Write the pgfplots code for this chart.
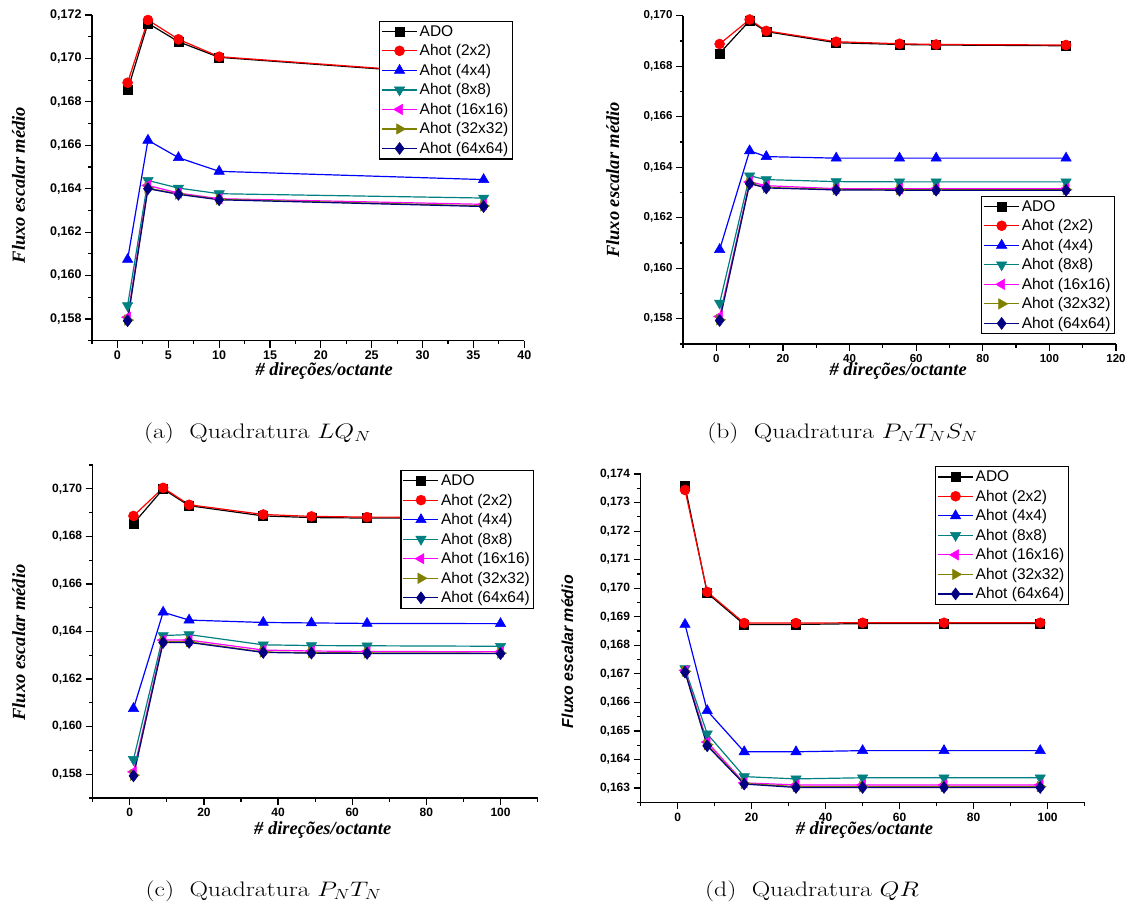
\documentclass[border=0pt]{standalone}
\usepackage{fix-cm}
\usepackage{fontspec}
\usepackage{graphicx}
\usepackage{pgfplots}
\pgfplotsset{compat=1.18}
\usepackage{pgfplotstable}
\newfontfamily\arial{Liberation Sans}
\newfontfamily\tnr{Liberation Serif}

\definecolor{c2}{RGB}{255,0,0}
\definecolor{c4}{RGB}{0,0,255}
\definecolor{c8}{RGB}{0,128,128}
\definecolor{c16}{RGB}{255,0,255}
\definecolor{c32}{RGB}{128,128,0}
\definecolor{c64}{RGB}{0,0,128}

\pgfplotstableread{
x ado h2 h4 h8 h16 h32 h64
1  0.16854 0.16888 0.16074 0.15862 0.15808 0.15795 0.15792
3  0.17162 0.17177 0.16623 0.16438 0.16415 0.16403 0.16400
6  0.17077 0.17088 0.16543 0.16403 0.16380 0.16376 0.16374
10 0.17005 0.17008 0.16480 0.16377 0.16354 0.16351 0.16349
36 0.16917 0.16920 0.16442 0.16357 0.16328 0.16321 0.16318
}\ta
\pgfplotstableread{
x ado h2 h4 h8 h16 h32 h64
1   0.16851 0.16888 0.16074 0.15862 0.15809 0.15796 0.15793
10  0.16980 0.16985 0.16465 0.16366 0.16342 0.16337 0.16335
15  0.16937 0.16940 0.16442 0.16351 0.16327 0.16320 0.16318
36  0.16893 0.16897 0.16436 0.16343 0.16315 0.16312 0.16310
55  0.16886 0.16889 0.16436 0.16342 0.16315 0.16311 0.16309
66  0.16884 0.16886 0.16436 0.16342 0.16315 0.16311 0.16309
105 0.16881 0.16884 0.16436 0.16342 0.16315 0.16311 0.16309
}\tb
\pgfplotstableread{
x ado h2 h4 h8 h16 h32 h64
1   0.16854 0.16886 0.16076 0.15862 0.15810 0.15796 0.15793
9   0.16999 0.17004 0.16481 0.16383 0.16364 0.16357 0.16354
16  0.16929 0.16933 0.16448 0.16387 0.16364 0.16357 0.16354
36  0.16886 0.16892 0.16438 0.16344 0.16322 0.16314 0.16312
49  0.16879 0.16884 0.16436 0.16341 0.16318 0.16311 0.16309
64  0.16877 0.16881 0.16434 0.16340 0.16316 0.16310 0.16308
100 0.16876 0.16880 0.16433 0.16338 0.16315 0.16309 0.16307
}\tc
\pgfplotstableread{
x ado h2 h4 h8 h16 h32 h64
2  0.17358 0.17344 0.16873 0.16718 0.16712 0.16709 0.16706
8  0.16983 0.16987 0.16571 0.16490 0.16461 0.16452 0.16448
18 0.16873 0.16878 0.16427 0.16340 0.16318 0.16316 0.16314
32 0.16873 0.16878 0.16427 0.16332 0.16311 0.16305 0.16302
50 0.16876 0.16879 0.16431 0.16336 0.16311 0.16305 0.16302
72 0.16876 0.16879 0.16431 0.16336 0.16311 0.16305 0.16302
98 0.16876 0.16879 0.16431 0.16336 0.16311 0.16305 0.16302
}\td

\pgfplotsset{
  origin/.style={
    scale only axis,
    axis x line*=bottom, axis y line*=left,
    axis line style={-, line width=1.3pt, black},
    tick align=outside,
    major tick length=7pt, minor tick length=3.5pt,
    tick style={black, line width=1.2pt},
    minor tick style={black, line width=1.2pt},
    scaled ticks=false,
    /pgf/number format/assume math mode=true,
    tick label style={font=\arial\bfseries\fontsize{12}{12}\selectfont},
    yticklabel style={/pgf/number format/.cd, fixed, fixed zerofill, precision=3, use comma},
    xticklabel style={/pgf/number format/.cd, fixed, precision=0},
    xlabel style={font=\tnr\bfseries\itshape\fontsize{18.5}{18.5}\selectfont, anchor=center},
    ylabel style={font=\tnr\bfseries\itshape\fontsize{18.5}{18.5}\selectfont, anchor=center},
    legend cell align=left,
    legend style={font=\arial\fontsize{15.5}{15.5}\selectfont, draw=black, line width=1.3pt, inner sep=2pt, row sep=2.8pt, anchor=north east},
    legend image code/.code={\draw[mark repeat=2,mark phase=2] plot coordinates {(0pt,0pt) (17.5pt,0pt) (35pt,0pt)};},
  },
  sA/.style={black, line width=1.2pt, mark=square*, mark size=4.5pt, mark options={solid, line width=0.5pt}},
  s2/.style={c2, line width=1.2pt, mark=*, mark size=5pt, mark options={solid, line width=0.5pt}},
  s4/.style={c4, line width=1.2pt, mark=triangle*, mark size=6pt, mark options={solid, line width=0.5pt}},
  s8/.style={c8, line width=1.2pt, mark=triangle*, mark size=6pt, mark options={solid, rotate=180, line width=0.5pt}},
  s16/.style={c16, line width=1.2pt, mark=triangle*, mark size=6pt, mark options={solid, rotate=90, line width=0.5pt}},
  s32/.style={c32, line width=1.2pt, mark=triangle*, mark size=6pt, mark options={solid, rotate=-90, line width=0.5pt}},
  s64/.style={c64, line width=1.2pt, mark=diamond*, mark size=6pt, mark options={solid, line width=0.5pt}},
}
\newcommand{\plotall}[1]{%
  \addplot[sA] table[x=x,y=ado]{#1};
  \addplot[s2] table[x=x,y=h2]{#1};
  \addplot[s4] table[x=x,y=h4]{#1};
  \addplot[s8] table[x=x,y=h8]{#1};
  \addplot[s16] table[x=x,y=h16]{#1};
  \addplot[s32] table[x=x,y=h32]{#1};
  \addplot[s64] table[x=x,y=h64]{#1};
  \legend{ADO,Ahot (2x2),Ahot (4x4),Ahot (8x8),Ahot (16x16),Ahot (32x32),Ahot (64x64)}%
}
\newcommand{\capt}[1]{\scalebox{1.22}[1]{\fontsize{21}{25}\selectfont #1}}

\begin{document}
\begin{tikzpicture}
\path[use as bounding box] (0pt,0pt) rectangle (1132pt,-908pt);

% (a)
\begin{axis}[origin, at={(92pt,-15pt)}, anchor=north west,
  width=432.3pt, height=325.7pt,
  xmin=-2.5, xmax=40, ymin=0.157, ymax=0.172,
  xtick={0,5,10,15,20,25,30,35,40},
  minor xtick={-2.5,2.5,7.5,12.5,17.5,22.5,27.5,32.5,37.5},
  ytick={0.158,0.160,0.162,0.164,0.166,0.168,0.170,0.172},
  minor ytick={0.157,0.159,0.161,0.163,0.165,0.167,0.169,0.171},
  tick label style={font=\arial\bfseries\fontsize{12.5}{12.5}\selectfont},
  xlabel={\# direções/octante}, ylabel={Fluxo escalar médio},
  xlabel style={at={(axis description cs:0.537,0)}, yshift=-30pt},
  ylabel style={at={(axis description cs:-0.170,0.478)}},
  legend style={at={(0.974,0.9825)}},
]
\plotall{\ta}
\end{axis}

% (b)
\begin{axis}[origin, at={(683pt,-15.7pt)}, anchor=north west,
  width=433pt, height=328.3pt,
  xmin=-10, xmax=120, ymin=0.157, ymax=0.170,
  xtick={0,20,40,60,80,100,120},
  minor xtick={-10,10,30,50,70,90,110},
  ytick={0.158,0.160,0.162,0.164,0.166,0.168,0.170},
  minor ytick={0.157,0.159,0.161,0.163,0.165,0.167,0.169},
  tick label style={font=\arial\bfseries\fontsize{11.5}{11.5}\selectfont},
  xlabel={\# direções/octante}, ylabel={Fluxo escalar médio},
  xlabel style={at={(axis description cs:0.497,0)}, yshift=-26.7pt},
  ylabel style={at={(axis description cs:-0.162,0.50)}},
  legend style={at={(0.998,0.452)}},
]
\plotall{\tb}
\end{axis}

% (c)
\begin{axis}[origin, at={(92.7pt,-465pt)}, anchor=north west,
  width=444.9pt, height=333pt,
  xmin=-10, xmax=110, ymin=0.157, ymax=0.171,
  xtick={0,20,40,60,80,100},
  minor xtick={-10,10,30,50,70,90,110},
  ytick={0.158,0.160,0.162,0.164,0.166,0.168,0.170},
  minor ytick={0.157,0.159,0.161,0.163,0.165,0.167,0.169,0.171},
  xlabel={\# direções/octante}, ylabel={Fluxo escalar médio},
  xlabel style={at={(axis description cs:0.517,0)}, yshift=-32pt},
  ylabel style={at={(axis description cs:-0.166,0.467)}},
  legend style={at={(0.993,0.985)}},
]
\plotall{\tc}
\end{axis}

% (d)
\begin{axis}[origin, at={(640.6pt,-474pt)}, anchor=north west,
  width=444pt, height=328.3pt,
  xmin=-10, xmax=110, ymin=0.1625, ymax=0.174,
  xtick={0,20,40,60,80,100},
  minor xtick={-10,10,30,50,70,90,110},
  ytick={0.163,0.164,0.165,0.166,0.167,0.168,0.169,0.170,0.171,0.172,0.173,0.174},
  minor ytick={0.1625,0.1635,0.1645,0.1655,0.1665,0.1675,0.1685,0.1695,0.1705,0.1715,0.1725,0.1735},
  xlabel={\# direções/octante}, ylabel={Fluxo escalar médio},
  xlabel style={at={(axis description cs:0.504,0)}, yshift=-27.7pt},
  ylabel style={at={(axis description cs:-0.165,0.459)}, font=\arial\bfseries\itshape\fontsize{15.9}{15.9}\selectfont},
  legend style={at={(0.965,1.024)}},
]
\plotall{\td}
\end{axis}

\node at (257.5pt,-433pt) {\capt{(a)\hspace{0.6em}Quadratura $LQ_N$}};
\node at (842.5pt,-433pt) {\capt{(b)\hspace{0.6em}Quadratura $P_NT_NS_N$}};
\node at (263.5pt,-891pt) {\capt{(c)\hspace{0.6em}Quadratura $P_NT_N$}};
\node at (812pt,-891pt) {\capt{(d)\hspace{0.6em}Quadratura $QR$}};
\end{tikzpicture}
\end{document}
